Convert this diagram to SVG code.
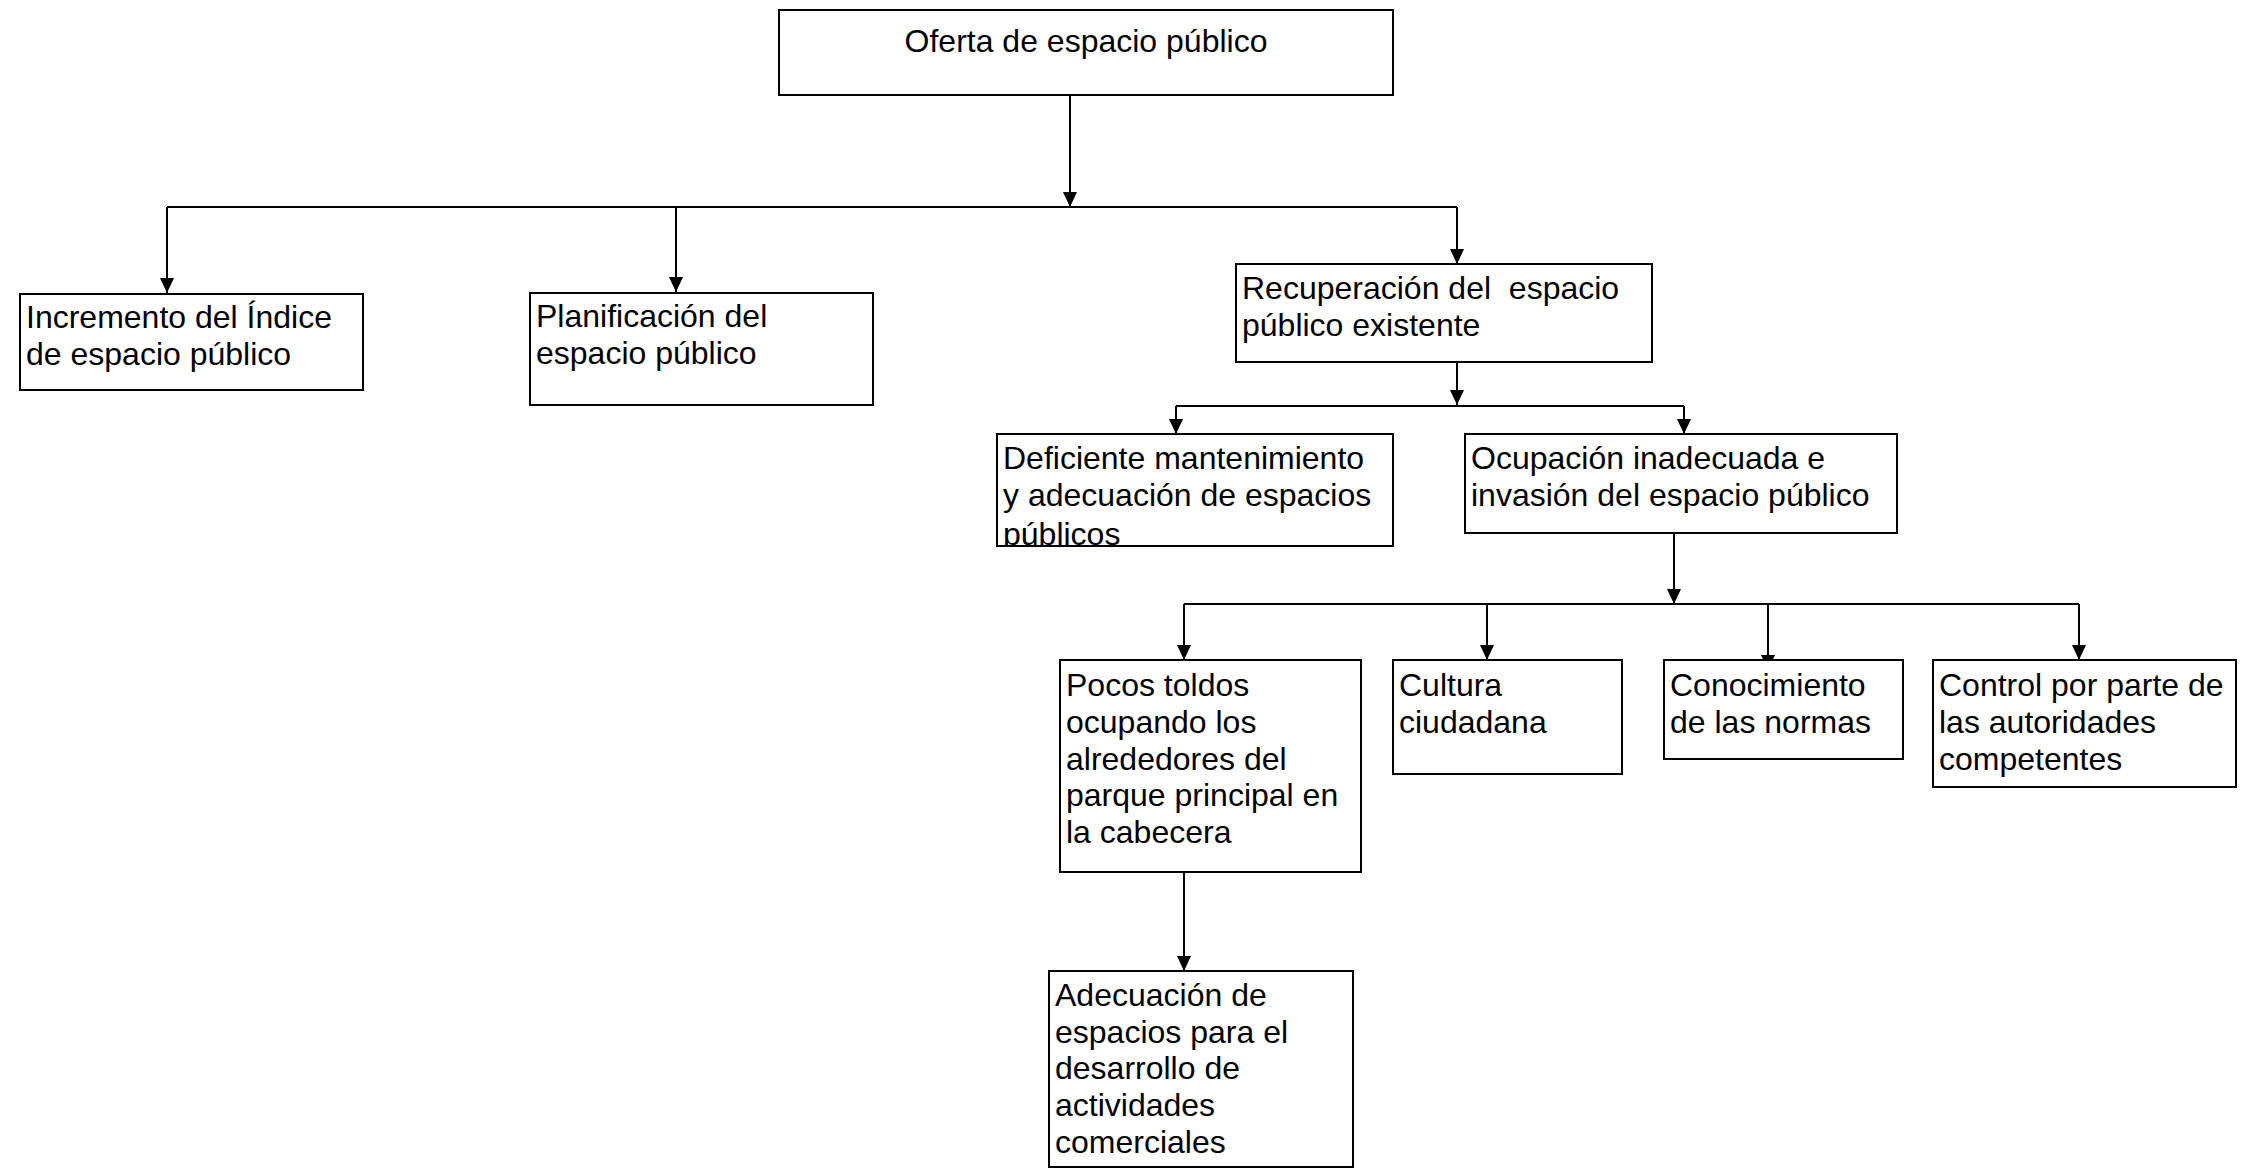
<svg xmlns="http://www.w3.org/2000/svg" width="2259" height="1169" viewBox="0 0 2259 1169">
<style>
.box{fill:#fff;stroke:#000;stroke-width:2}
.t{font-family:"Liberation Sans",Arial,sans-serif;font-size:32px;fill:#000}
.c{fill:none;stroke:#000;stroke-width:2}
</style>
<defs>
<marker id="ah" markerUnits="userSpaceOnUse" markerWidth="16" markerHeight="16" refX="15" refY="7" orient="auto">
<path d="M0,0 L15,7 L0,14 z" fill="#000"/>
</marker>
<clipPath id="clip4"><rect x="997" y="434" width="396" height="112"/></clipPath>
</defs>
<rect width="2259" height="1169" fill="#fff"/>
<g id="connectors">
<line class="c" x1="1070" y1="95" x2="1070" y2="207" marker-end="url(#ah)"/>
<polyline class="c" points="167,207 1457,207"/>
<line class="c" x1="167" y1="207" x2="167" y2="293" marker-end="url(#ah)"/>
<line class="c" x1="676" y1="207" x2="676" y2="292" marker-end="url(#ah)"/>
<line class="c" x1="1457" y1="207" x2="1457" y2="264" marker-end="url(#ah)"/>
<line class="c" x1="1457" y1="362" x2="1457" y2="405" marker-end="url(#ah)"/>
<polyline class="c" points="1176,406 1684,406"/>
<line class="c" x1="1176" y1="406" x2="1176" y2="434" marker-end="url(#ah)"/>
<line class="c" x1="1684" y1="406" x2="1684" y2="434" marker-end="url(#ah)"/>
<line class="c" x1="1674" y1="533" x2="1674" y2="604" marker-end="url(#ah)"/>
<polyline class="c" points="1184,604 2079,604"/>
<line class="c" x1="1184" y1="604" x2="1184" y2="660" marker-end="url(#ah)"/>
<line class="c" x1="1487" y1="604" x2="1487" y2="660" marker-end="url(#ah)"/>
<line class="c" x1="1768" y1="604" x2="1768" y2="670" marker-end="url(#ah)"/>
<line class="c" x1="2079" y1="604" x2="2079" y2="660" marker-end="url(#ah)"/>
<line class="c" x1="1184" y1="872" x2="1184" y2="971" marker-end="url(#ah)"/>
</g>
<g id="n-oferta">
<rect class="box" x="779" y="10" width="614" height="85"/>
<text class="t" x="1086" y="52" text-anchor="middle">Oferta de espacio público</text>
</g>
<g id="n-incremento">
<rect class="box" x="20" y="294" width="343" height="96"/>
<text class="t" x="26" y="328">Incremento del Índice</text>
<text class="t" x="26" y="365">de espacio público</text>
</g>
<g id="n-planificacion">
<rect class="box" x="530" y="293" width="343" height="112"/>
<text class="t" x="536" y="327">Planificación del</text>
<text class="t" x="536" y="364">espacio público</text>
</g>
<g id="n-recuperacion">
<rect class="box" x="1236" y="264" width="416" height="98"/>
<text class="t" x="1242" y="299" xml:space="preserve">Recuperación del  espacio</text>
<text class="t" x="1242" y="336">público existente</text>
</g>
<g id="n-deficiente">
<rect class="box" x="997" y="434" width="396" height="112"/>
<g clip-path="url(#clip4)">
<text class="t" x="1003" y="469">Deficiente mantenimiento</text>
<text class="t" x="1003" y="506">y adecuación de espacios</text>
<text class="t" x="1003" y="545">públicos</text>
</g>
</g>
<g id="n-ocupacion">
<rect class="box" x="1465" y="434" width="432" height="99"/>
<text class="t" x="1471" y="469">Ocupación inadecuada e</text>
<text class="t" x="1471" y="506">invasión del espacio público</text>
</g>
<g id="n-pocos">
<rect class="box" x="1060" y="660" width="301" height="212"/>
<text class="t" x="1066" y="696">Pocos toldos</text>
<text class="t" x="1066" y="733">ocupando los</text>
<text class="t" x="1066" y="770">alrededores del</text>
<text class="t" x="1066" y="806">parque principal en</text>
<text class="t" x="1066" y="843">la cabecera</text>
</g>
<g id="n-cultura">
<rect class="box" x="1393" y="660" width="229" height="114"/>
<text class="t" x="1399" y="696">Cultura</text>
<text class="t" x="1399" y="733">ciudadana</text>
</g>
<g id="n-conocimiento">
<rect class="box" x="1664" y="660" width="239" height="99"/>
<text class="t" x="1670" y="696">Conocimiento</text>
<text class="t" x="1670" y="733">de las normas</text>
</g>
<g id="n-control">
<rect class="box" x="1933" y="660" width="303" height="127"/>
<text class="t" x="1939" y="696">Control por parte de</text>
<text class="t" x="1939" y="733">las autoridades</text>
<text class="t" x="1939" y="770">competentes</text>
</g>
<g id="n-adecuacion">
<rect class="box" x="1049" y="971" width="304" height="196"/>
<text class="t" x="1055" y="1006">Adecuación de</text>
<text class="t" x="1055" y="1043">espacios para el</text>
<text class="t" x="1055" y="1079">desarrollo de</text>
<text class="t" x="1055" y="1116">actividades</text>
<text class="t" x="1055" y="1153">comerciales</text>
</g>
</svg>
